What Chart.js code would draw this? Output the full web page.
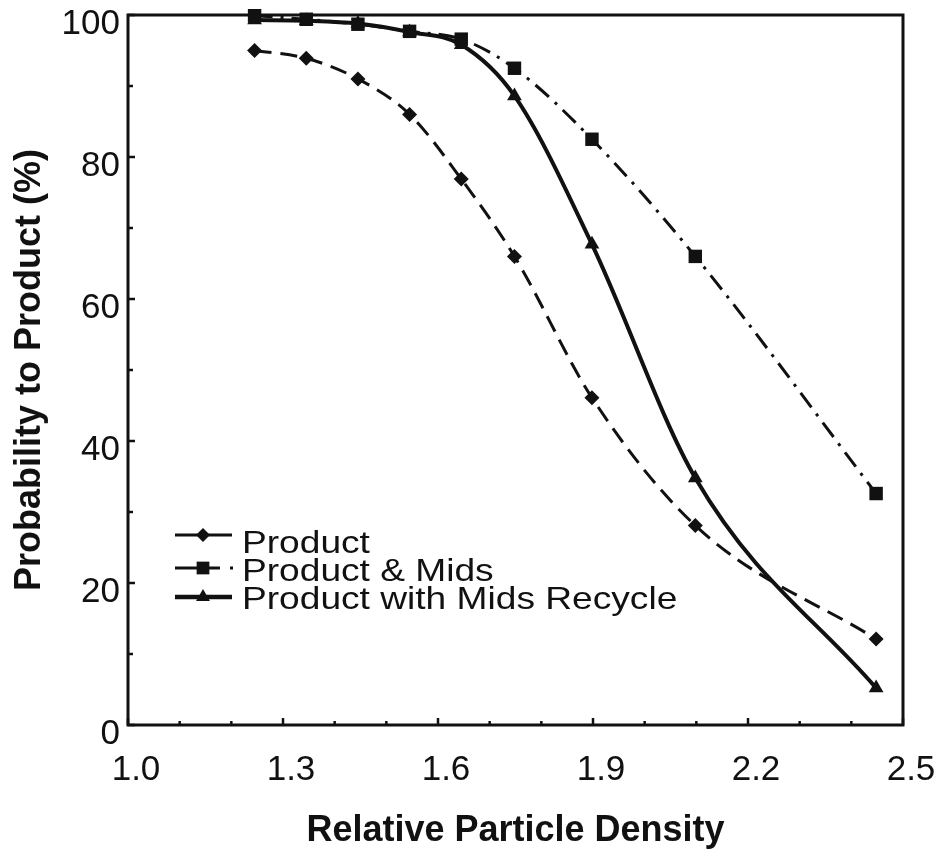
<!DOCTYPE html>
<html>
<head>
<meta charset="utf-8">
<script src="https://cdn.jsdelivr.net/npm/chart.js@4.4.1/dist/chart.umd.min.js"></script>
<style>
  html, body { margin: 0; padding: 0; background: #fff; }
</style>
</head>
<body>
<canvas id="chart" width="941" height="850"></canvas>
<script>
// values
const density = [1.245, 1.345, 1.445, 1.545, 1.645, 1.748, 1.898, 2.098, 2.448];
const product = [95.0, 93.9, 91.0, 86.0, 76.9, 66.0, 46.1, 28.1, 12.1];
const productMids = [99.9, 99.4, 98.7, 97.7, 96.6, 92.5, 82.5, 66.0, 32.6];
const productRecycle = [99.3, 99.2, 98.8, 97.6, 95.8, 88.6, 67.7, 34.8, 5.2];
const seriesLabels = ["Product", "Product & Mids", "Product with Mids Recycle"];

const xTicks = [1.0, 1.3, 1.6, 1.9, 2.2, 2.5];
const xMinorTicks = [1.1, 1.2, 1.4, 1.5, 1.7, 1.8, 2.0, 2.1, 2.3, 2.4];
const yTicks = [0, 20, 40, 60, 80, 100];
const yMinorTicks = [10, 30, 50, 70, 90];

const FONT = "'Liberation Sans', Arial, Helvetica, sans-serif";
const INK = "#111";

const pts = ys => density.map((x, i) => ({ x, y: ys[i] }));

// frame + inward tick marks + legend inside the plot
const framePlugin = {
  id: "frame",
  beforeDatasetsDraw(chart) {
    const { ctx, chartArea: a, scales: { x, y } } = chart;
    ctx.save();
    ctx.strokeStyle = INK;
    ctx.lineWidth = 3;
    ctx.strokeRect(a.left, a.top, a.right - a.left, a.bottom - a.top);
    ctx.lineWidth = 2.5;
    ctx.beginPath();
    xTicks.forEach(v => { const px = x.getPixelForValue(v); ctx.moveTo(px, a.bottom); ctx.lineTo(px, a.bottom - 7); });
    xMinorTicks.forEach(v => { const px = x.getPixelForValue(v); ctx.moveTo(px, a.bottom); ctx.lineTo(px, a.bottom - 4); });
    yTicks.forEach(v => { const py = y.getPixelForValue(v); ctx.moveTo(a.left, py); ctx.lineTo(a.left + 7, py); });
    yMinorTicks.forEach(v => { const py = y.getPixelForValue(v); ctx.moveTo(a.left, py); ctx.lineTo(a.left + 5, py); });
    ctx.stroke();
    ctx.restore();
  },
  afterDraw(chart) {
    const { ctx } = chart;
    const rows = [
      { base: 553, line: 535, style: "rectRot", r: 7, w: 3 },
      { base: 581, line: 568, style: "rect", r: 9, w: 3 },
      { base: 609, line: 597, style: "triangle", r: 8, w: 4.5 }
    ];
    ctx.save();
    ctx.strokeStyle = INK;
    ctx.fillStyle = INK;
    rows.forEach((row, i) => {
      ctx.lineWidth = row.w;
      ctx.beginPath();
      if (i === 1) {
        ctx.moveTo(175, row.line); ctx.lineTo(200, row.line);
        ctx.moveTo(209, row.line); ctx.lineTo(220, row.line);
        ctx.moveTo(230, row.line); ctx.lineTo(233, row.line);
      } else {
        ctx.moveTo(175, row.line); ctx.lineTo(232, row.line);
      }
      ctx.stroke();
      Chart.helpers.drawPoint(ctx, { pointStyle: row.style, radius: row.r, rotation: 0, borderWidth: 0 }, 203, row.line);
      ctx.font = "32px " + FONT;
      ctx.textBaseline = "alphabetic";
      ctx.translate(242, row.base);
      ctx.scale(1.16, 1);
      ctx.fillText(seriesLabels[i], 0, 0);
      ctx.setTransform(1, 0, 0, 1, 0, 0);
    });
    ctx.restore();
  }
};

new Chart(document.getElementById("chart"), {
  type: "line",
  data: {
    datasets: [
      {
        label: seriesLabels[0], data: pts(product),
        borderColor: INK, backgroundColor: INK, borderWidth: 3, borderDash: [17, 9],
        pointStyle: "rectRot", pointRadius: 7.5, pointBorderWidth: 0, pointHoverRadius: 7.5
      },
      {
        label: seriesLabels[1], data: pts(productMids),
        borderColor: INK, backgroundColor: INK, borderWidth: 3, borderDash: [18, 8, 3, 8],
        pointStyle: "rect", pointRadius: 9.5, pointBorderWidth: 0, pointHoverRadius: 9.5
      },
      {
        label: seriesLabels[2], data: pts(productRecycle),
        borderColor: INK, backgroundColor: INK, borderWidth: 4,
        pointStyle: "triangle", pointRadius: 8.5, pointBorderWidth: 0, pointHoverRadius: 8.5
      }
    ]
  },
  options: {
    responsive: false,
    animation: false,
    events: [],
    layout: { padding: { left: 0, right: 38, top: 15, bottom: 0 } },
    elements: { line: { cubicInterpolationMode: "monotone", fill: false } },
    datasets: { line: { clip: false } },
    plugins: { legend: { display: false }, tooltip: { enabled: false } },
    scales: {
      x: {
        type: "linear", min: 1.0, max: 2.5,
        afterBuildTicks: s => { s.ticks = xTicks.map(v => ({ value: v })); },
        afterFit: s => { s.height = 125; s.paddingLeft = 0; s.paddingRight = 0; },
        grid: { display: false, drawTicks: false },
        border: { display: false },
        ticks: {
          color: INK, font: { family: FONT, size: 35 }, padding: 24, labelOffset: 8,
          maxRotation: 0, autoSkip: false, callback: v => v.toFixed(1)
        },
        title: {
          display: true, text: "Relative Particle Density", color: INK,
          font: { family: FONT, size: 36, weight: "bold", lineHeight: 1.05 },
          padding: { top: 0, bottom: 0 }
        }
      },
      y: {
        type: "linear", min: 0, max: 100,
        afterBuildTicks: s => { s.ticks = yTicks.map(v => ({ value: v })); },
        afterFit: s => { s.width = 128; s.paddingTop = 0; s.paddingBottom = 0; },
        grid: { display: false, drawTicks: false },
        border: { display: false },
        ticks: {
          color: INK, font: { family: FONT, size: 35 }, padding: 8, labelOffset: 9,
          autoSkip: false
        },
        title: {
          display: true, text: "Probability to Product (%)", color: INK,
          font: { family: FONT, size: 36, weight: "bold", lineHeight: 1.2 },
          padding: { top: 8, bottom: 0 }
        }
      }
    }
  },
  plugins: [framePlugin]
});
</script>
</body>
</html>
